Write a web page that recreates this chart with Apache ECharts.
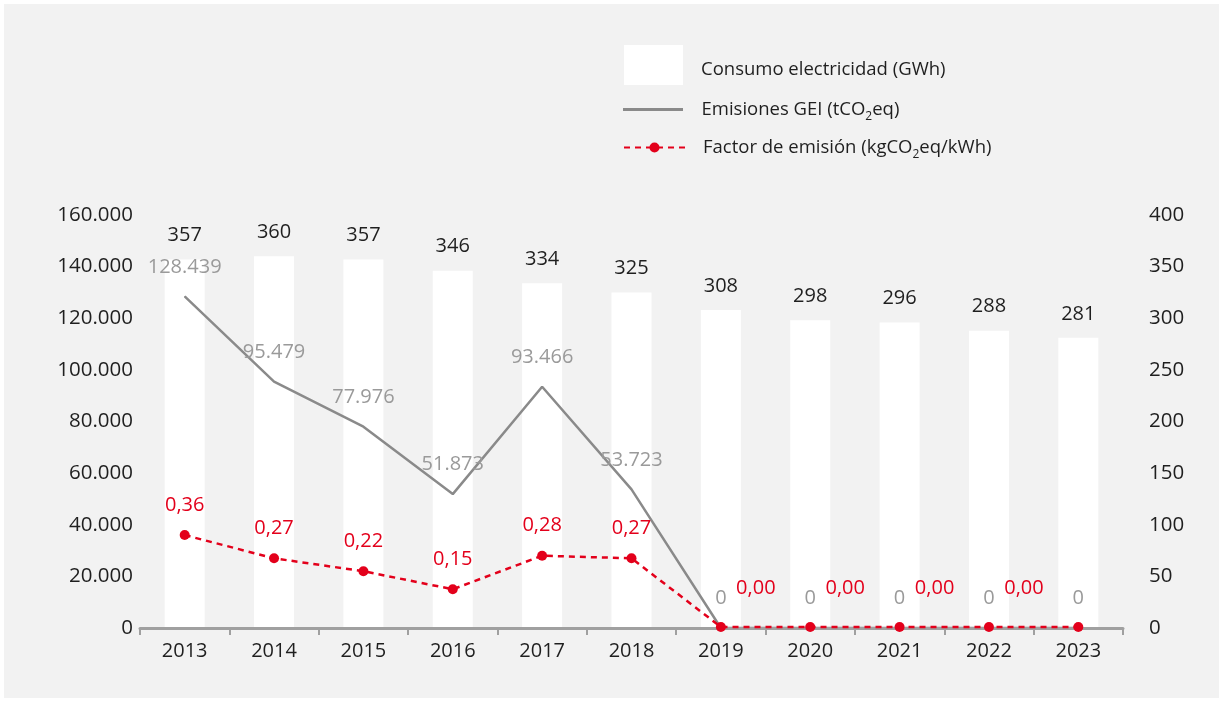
<!DOCTYPE html>
<html>
<head>
<meta charset="utf-8">
<script src="https://cdn.jsdelivr.net/npm/echarts@6/dist/echarts.min.js"></script>
<style>
  html, body { margin: 0; padding: 0; background: #ffffff; }
  #chart { position: absolute; left: 4px; top: 4px; width: 1215px; height: 694px; background: #f2f2f2; }
</style>
</head>
<body>
<div id="chart"></div>
<script>
const categories = ['2013', '2014', '2015', '2016', '2017', '2018', '2019', '2020', '2021', '2022', '2023'];
const consumo = [357, 360, 357, 346, 334, 325, 308, 298, 296, 288, 281];
const emisiones = [128439, 95479, 77976, 51873, 93466, 53723, 0, 0, 0, 0, 0];
const factor = [0.36, 0.27, 0.22, 0.15, 0.28, 0.27, 0.004, 0.004, 0.004, 0.004, 0.004];
const leftTicks = [0, 160000, 20000];
const rightTicks = [0, 400, 50];

const nameConsumo = 'Consumo electricidad (GWh)';
const nameEmis = 'Emisiones GEI (tCO2eq)';
const nameFactor = 'Factor de emisión (kgCO2eq/kWh)';

const FONT = '"Open Sans", sans-serif';
const RED = '#e3001b';
const GRAY_LINE = '#8a8a8a';
const GRAY_LABEL = '#9a9a9a';
const TEXT = '#1f1f1f';

function thousands(v) {
  return String(Math.round(v)).replace(/\B(?=(\d{3})+(?!\d))/g, '.');
}
function legendFmt(name) {
  return name.replace('CO2', 'CO{s|2}');
}
function legendText(pad) {
  return {
    color: TEXT, fontFamily: FONT, fontSize: 18.5, padding: pad,
    rich: { s: { fontSize: 12, verticalAlign: 'bottom', padding: [14, 0, 0, 0], color: TEXT, fontFamily: FONT } }
  };
}

const chart = echarts.init(document.getElementById('chart'));
chart.setOption({
  animation: false,
  textStyle: { fontFamily: FONT },
  grid: { left: 136, right: 96, top: 211, bottom: 70 },
  legend: [
    { data: [nameConsumo], left: 620, top: 41, padding: 0, itemWidth: 59, itemHeight: 40, icon: 'rect',
      formatter: legendFmt, textStyle: legendText([10, 0, 0, 13]) },
    { data: [{ name: nameEmis, icon: 'path://M0,0 L60,0 L60,3 L0,3 Z' }], left: 619, top: 96, padding: 0,
      itemWidth: 61, itemHeight: 3, formatter: legendFmt, textStyle: legendText([0, 0, 0, 13]) },
    { data: [nameFactor], left: 619, top: 134, padding: 0, itemWidth: 61, itemHeight: 12.5,
      formatter: legendFmt, textStyle: legendText([0, 0, 0, 13]) }
  ],
  xAxis: {
    type: 'category',
    data: categories,
    boundaryGap: true,
    z: 5,
    axisLine: { lineStyle: { color: '#a0a0a0', width: 3 } },
    axisTick: { show: true, length: 7, lineStyle: { color: '#a0a0a0', width: 2 } },
    axisLabel: { color: TEXT, fontSize: 20, margin: 13, fontFamily: FONT }
  },
  yAxis: [
    { type: 'value', min: leftTicks[0], max: leftTicks[1], interval: leftTicks[2],
      splitLine: { show: false }, axisLine: { show: false }, axisTick: { show: false },
      axisLabel: { color: TEXT, fontSize: 20.5, margin: 7, fontFamily: FONT, formatter: thousands } },
    { type: 'value', min: rightTicks[0], max: rightTicks[1], interval: rightTicks[2], position: 'right',
      splitLine: { show: false }, axisLine: { show: false }, axisTick: { show: false },
      axisLabel: { color: TEXT, fontSize: 20.5, margin: 26, fontFamily: FONT } },
    { type: 'value', min: 0, max: 1.6, show: false, splitLine: { show: false } }
  ],
  series: [
    { name: nameConsumo, type: 'bar', yAxisIndex: 1, data: consumo, barWidth: 40,
      itemStyle: { color: '#ffffff' },
      label: { show: true, position: 'top', distance: 14, color: TEXT, fontSize: 20, fontFamily: FONT } },
    { name: nameEmis, type: 'line', yAxisIndex: 0, data: emisiones,
      symbol: 'circle', symbolSize: 1, showSymbol: true,
      itemStyle: { color: GRAY_LINE },
      lineStyle: { color: GRAY_LINE, width: 2.5 },
      label: { show: true, position: 'top', distance: 19, color: GRAY_LABEL, fontSize: 20, fontFamily: FONT,
        formatter: p => thousands(p.value) }, z: 3 },
    { name: nameFactor, type: 'line', yAxisIndex: 2,
      data: factor.map((v, i) => {
        const item = { value: v };
        if (i === factor.length - 1) item.label = { show: false };
        else if (v < 0.005) item.label = { offset: [35, -9] };
        return item;
      }),
      symbol: 'circle', symbolSize: 10, showSymbol: true,
      itemStyle: { color: RED },
      lineStyle: { color: RED, width: 2.5, type: [6, 5] },
      label: { show: true, position: 'top', distance: 15, color: RED, fontSize: 20, fontFamily: FONT,
        formatter: p => p.value.toFixed(2).replace('.', ',') }, z: 6 }
  ]
});
</script>
</body>
</html>
